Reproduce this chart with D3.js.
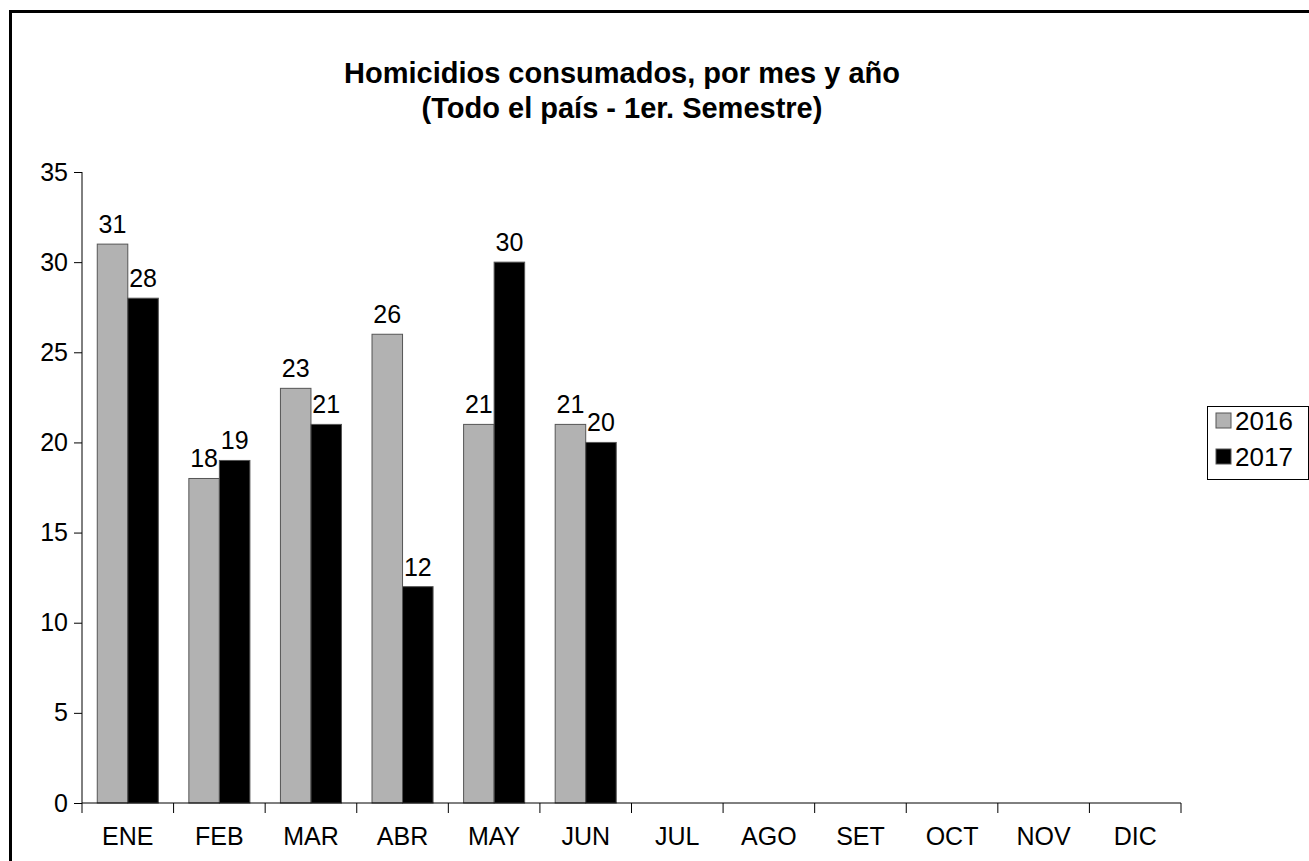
<!DOCTYPE html>
<html>
<head>
<meta charset="utf-8">
<script src="https://cdn.jsdelivr.net/npm/d3@7"></script>
<style>
  body { margin: 0; background: #fff; }
  text { font-family: "Liberation Sans", Arial, sans-serif; }
</style>
</head>
<body>
<div id="chart"></div>
<script>
// data
const months = ["ENE", "FEB", "MAR", "ABR", "MAY", "JUN", "JUL", "AGO", "SET", "OCT", "NOV", "DIC"]
const years = ["2016", "2017"]
const values2016 = [31, 18, 23, 26, 21, 21]
const values2017 = [28, 19, 21, 12, 30, 20]
const yTicks = [0, 5, 10, 15, 20, 25, 30, 35]
const colors = {"2016": "#b2b2b2", "2017": "#000000"}

const width = 1309
const height = 861
const margin = {top: 172, right: 128, bottom: 58, left: 82}

const svg = d3.select("#chart")
    .append("svg")
    .attr("width", width)
    .attr("height", height)

// outer frame, runs off the right and bottom edges
svg.append("rect")
    .attr("x", 10.5)
    .attr("y", 11.5)
    .attr("width", width)
    .attr("height", height)
    .attr("fill", "none")
    .attr("stroke", "#000")
    .attr("stroke-width", 3)

const x = d3.scaleBand()
    .domain(months)
    .range([margin.left, width - margin.right])

const inner = d3.scaleBand()
    .domain(years)
    .range([x.bandwidth() / 6, x.bandwidth() * 5 / 6])

const y = d3.scaleLinear()
    .domain([0, 35])
    .range([height - margin.bottom, margin.top])

// rows of data, one per month that has values
const rows = values2016.map((v, i) => ({
    month: months[i],
    vals: [{year: "2016", value: v}, {year: "2017", value: values2017[i]}]
}))

const groups = svg.append("g")
    .selectAll("g")
    .data(rows)
    .enter().append("g")
    .attr("transform", d => `translate(${x(d.month)},0)`)

groups.selectAll("rect")
    .data(d => d.vals)
    .enter().append("rect")
    .attr("x", d => inner(d.year))
    .attr("y", d => y(d.value))
    .attr("width", inner.bandwidth())
    .attr("height", d => y(0) - y(d.value))
    .attr("fill", d => colors[d.year])
    .attr("stroke", "#555")
    .attr("stroke-width", 1)

groups.selectAll("text")
    .data(d => d.vals)
    .enter().append("text")
    .attr("x", d => inner(d.year) + inner.bandwidth() / 2)
    .attr("y", d => y(d.value) - 11)
    .attr("text-anchor", "middle")
    .style("font-size", "25px")
    .text(d => d.value)

// y axis
const yAxis = svg.append("g")
    .attr("transform", `translate(${margin.left},0)`)
    .call(d3.axisLeft(y).tickValues(yTicks).tickSize(8).tickPadding(6))
yAxis.select(".domain").attr("d", `M0,${y(0)}V${y(35)}`)

// x axis, ticks on category boundaries
const xAxis = svg.append("g")
    .attr("transform", `translate(0,${y(0)})`)
    .call(d3.axisBottom(x).tickSize(0).tickPadding(24))
xAxis.select(".domain").attr("d", `M${margin.left},0H${width - margin.right}`)
xAxis.selectAll(".bound")
    .data(months.concat(["end"]))
    .enter().append("line")
    .attr("x1", (d, i) => margin.left + i * x.step())
    .attr("x2", (d, i) => margin.left + i * x.step())
    .attr("y1", 0)
    .attr("y2", 10)
    .attr("stroke", "#000")

svg.selectAll(".tick text")
    .style("font-size", "25px")
    .attr("fill", "#000")
svg.selectAll(".domain, .tick line").attr("stroke", "#000")

// title
const title = svg.append("text")
    .attr("text-anchor", "middle")
    .style("font-size", "29px")
    .style("font-weight", "bold")
title.append("tspan").attr("x", 622).attr("y", 83).text("Homicidios consumados, por mes y año")
title.append("tspan").attr("x", 622).attr("y", 118).text("(Todo el país - 1er. Semestre)")

// legend
const legend = svg.append("g")
legend.append("rect")
    .attr("x", 1207.5)
    .attr("y", 406.5)
    .attr("width", 101)
    .attr("height", 73)
    .attr("fill", "#fff")
    .attr("stroke", "#000")
const li = legend.selectAll("g.item")
    .data(years)
    .enter().append("g")
    .attr("transform", (d, i) => `translate(1216,${413 + i * 36})`)
li.append("rect")
    .attr("width", 15)
    .attr("height", 15)
    .attr("fill", d => colors[d])
    .attr("stroke", "#555")
li.append("text")
    .attr("x", 19)
    .attr("y", 17)
    .style("font-size", "26px")
    .text(d => d)
</script>
</body>
</html>
